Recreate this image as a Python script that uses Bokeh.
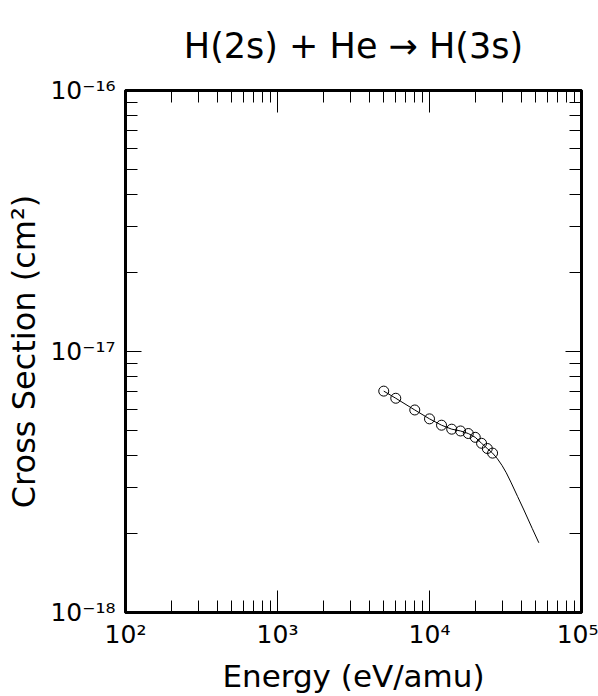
from bokeh.plotting import figure
from bokeh.models import FixedTicker, LogAxis, Range1d, CustomJSTickFormatter
from bokeh.embed import file_html
from bokeh.resources import INLINE

# ---- data ----
energy = [5000, 6000, 8000, 10000, 12000, 14000, 16000, 18000, 20000, 22000, 24000, 26000]
cross_section = [7.05e-18, 6.62e-18, 5.97e-18, 5.52e-18, 5.22e-18, 5.04e-18,
                 4.96e-18, 4.85e-18, 4.69e-18, 4.45e-18, 4.25e-18, 4.08e-18]
fit_energy = [5000, 6000, 8000, 10000, 12000, 14000, 16000, 18000, 20000, 22000, 24000,
              26000, 28000, 30000, 32000, 34300, 38000, 41800, 47400, 52400]
fit_cross_section = [7.05e-18, 6.62e-18, 5.97e-18, 5.52e-18, 5.22e-18, 5.04e-18,
                     4.96e-18, 4.85e-18, 4.69e-18, 4.45e-18, 4.25e-18, 4.08e-18,
                     3.88e-18, 3.66e-18, 3.43e-18, 3.16e-18, 2.78e-18, 2.47e-18,
                     2.10e-18, 1.85e-18]

x_ticks = [1e2, 1e3, 1e4, 1e5]
x_tick_labels = ["10²", "10³", "10⁴", "10⁵"]
y_ticks = [1e-18, 1e-17, 1e-16]
y_tick_labels = ["10⁻¹⁸", "10⁻¹⁷", "10⁻¹⁶"]

title_text = "H(2s) + He → H(3s)"
x_label = "Energy (eV/amu)"
y_label = "Cross Section (cm²)"

FONT = "DejaVu Sans"

x_minor = [m * 10 ** k for k in range(2, 5) for m in range(2, 10)]
y_minor = [m * 10.0 ** k for k in range(-18, -16) for m in range(2, 10)]

p = figure(width=598, height=696, x_axis_type="log", y_axis_type="log",
           x_range=Range1d(1e2, 1e5), y_range=Range1d(1e-18, 1e-16),
           output_backend="svg", toolbar_location=None,
           min_border_left=125, min_border_right=17, min_border_top=90, min_border_bottom=82)

p.grid.visible = False
p.outline_line_color = "black"
p.outline_line_width = 3
p.outline_line_alpha = 1.0
p.background_fill_color = "white"
p.border_fill_color = "white"

p.title.text = title_text
p.title.align = "center"
p.title.vertical_align = "top"
p.title.text_font = FONT
p.title.text_font_size = "35px"
p.title.text_font_style = "normal"
p.title.text_color = "black"
p.title.standoff = 46


def style_axis(ax, ticks, minor, labels, show_labels, major_len):
    ax.ticker = FixedTicker(ticks=ticks, minor_ticks=minor)
    ax.axis_line_color = "black"
    ax.axis_line_width = 3
    ax.major_tick_in = major_len
    ax.major_tick_out = 0
    ax.minor_tick_in = 12
    ax.minor_tick_out = 0
    ax.major_tick_line_color = "black"
    ax.minor_tick_line_color = "black"
    ax.major_tick_line_width = 1
    ax.minor_tick_line_width = 1
    if show_labels:
        ax.major_label_overrides = {t: l for t, l in zip(ticks, labels)}
        ax.major_label_text_font = FONT
        ax.major_label_text_font_size = "25px"
        ax.major_label_text_color = "black"
    else:
        ax.formatter = CustomJSTickFormatter(code="return ''")
        ax.major_label_standoff = 0


# bottom / left axes
xa = p.xaxis[0]
style_axis(xa, x_ticks, x_minor, x_tick_labels, True, 22)
xa.major_label_standoff = 7
xa.axis_label = x_label
xa.axis_label_text_font = FONT
xa.axis_label_text_font_size = "31px"
xa.axis_label_text_font_style = "normal"
xa.axis_label_text_color = "black"
xa.axis_label_standoff = 6

ya = p.yaxis[0]
style_axis(ya, y_ticks, y_minor, y_tick_labels, True, 16)
ya.major_label_standoff = 10
ya.axis_label = y_label
ya.axis_label_text_font = FONT
ya.axis_label_text_font_size = "32px"
ya.axis_label_text_font_style = "normal"
ya.axis_label_text_color = "black"
ya.axis_label_standoff = 4

# top / right axes (ticks only)
top = LogAxis()
style_axis(top, x_ticks, x_minor, x_tick_labels, False, 22)
p.add_layout(top, "above")
right = LogAxis()
style_axis(right, y_ticks, y_minor, y_tick_labels, False, 16)
p.add_layout(right, "right")

# fitted curve and data points
p.line(fit_energy, fit_cross_section, line_color="black", line_width=1)
p.scatter(energy, cross_section, marker="circle", size=10, fill_color=None,
          line_color="black", line_width=1)

open("out.html", "w").write(file_html(p, INLINE))
